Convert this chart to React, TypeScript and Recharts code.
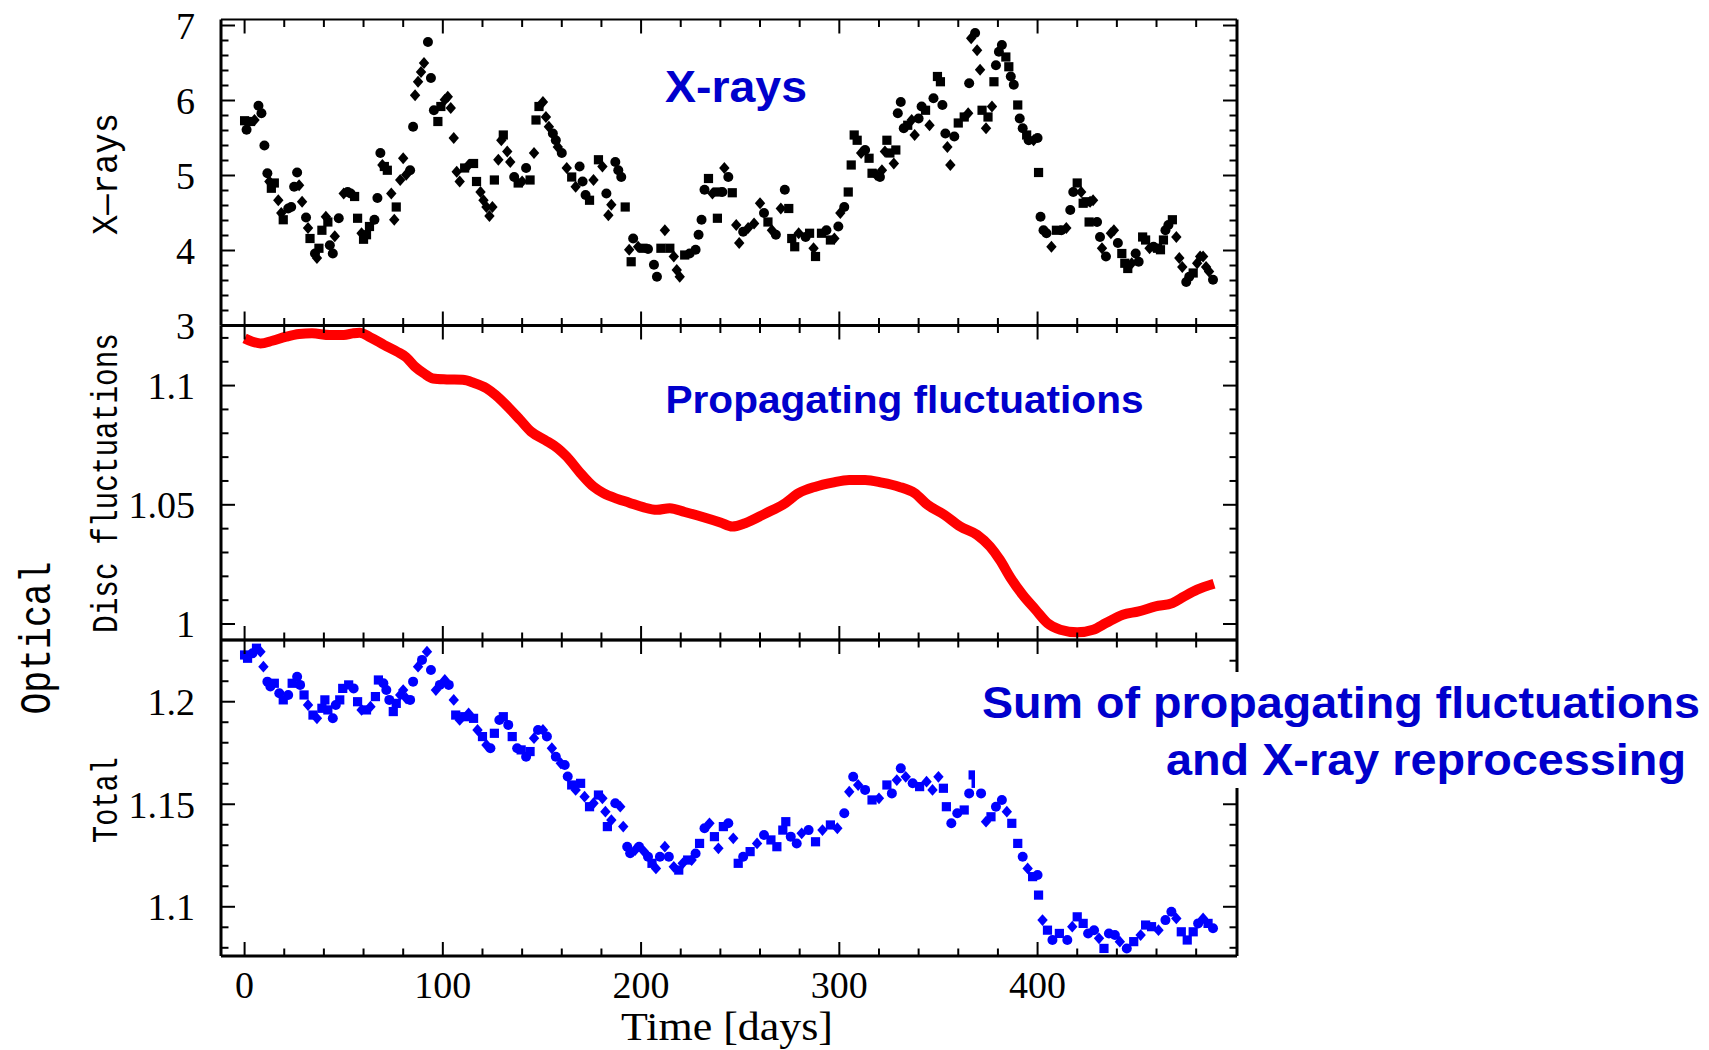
import React from 'react';
import { ComposedChart, Scatter, Line, XAxis, YAxis } from 'recharts';

// ---------- data ----------
const xrayDay = [0,1,3,5,7,8.5,10,11.5,12.5,13.5,15,17,18.5,19.5,22,23.5,25,26.5,27.5,29,31,32,33,35.5,36.5,37.5,39,41,42,43,44.5,45.5,47.5,50,52,53.5,55.5,57,59,60,61.5,63,65.5,67,68.5,69.5,70.5,72,74,75.5,76.5,78.5,80,81.5,83.5,85,86,87.5,89,90.5,92.5,94,95.5,97.5,99,101,102.5,104,105.5,107,108.5,111,113,115.5,117,119,120.5,122,123.5,125,126,128,129.5,130.5,132.5,134,136,138,140,142,144,146,147,148.5,150.5,152,153.5,155.5,157,158,160,162.5,165,167,169,170.5,172,174,176,178.5,180.5,182.5,183.5,185,187,188.5,190,192,194,195,196,198.5,201,203.5,206.5,208,210,212,214.5,216.5,218,219.5,222,224.5,227.5,229,230.5,232,234,236,238.5,238.5,241,242,244,246,248,249.5,251.5,254,257,260,262,264,266,268,270.5,272.5,274.5,276,277.5,279.5,283,285,287,288,291,293.5,295.5,297.5,299.5,300.5,302.5,304.5,306,307.5,309,311,313,315,316.5,318.5,320.5,321.5,323,324,325.5,327.5,328.5,329.5,331,332.5,334.5,336.5,338,340,341.5,343.5,345.5,347.5,349.5,351,352,353.5,354.5,356,358,360,363,365,365.5,366.5,368.5,369.5,371,372,374,375,377,378,379,380.5,382,384,385.5,386.5,388,390,391,392.5,394.5,395.5,398,400,400.5,401.5,403,404.5,407,409.5,412,414.5,416.5,418,420,422,423,424.5,426,426.5,428,430,431.5,432.5,434.5,437,438.5,440.5,442.5,444,445.5,447.5,449.5,451,453,454.5,456.5,458.5,460.5,462,463.5,464.5,466,468,470,471.5,473,475,476.5,478.5,480.5,482,483.5,485,486.5,488.5];
const xrayFlux = [5.73,5.61,5.72,5.74,5.93,5.83,5.40,5.03,4.92,4.83,4.90,4.67,4.50,4.41,4.56,4.58,4.85,5.04,4.87,4.65,4.44,4.30,4.16,3.96,3.90,4.03,4.27,4.45,4.38,4.07,3.96,4.19,4.43,4.76,4.78,4.76,4.72,4.43,4.23,4.15,4.21,4.32,4.41,4.70,5.30,5.14,5.12,5.07,4.76,4.41,4.58,4.94,5.23,5.01,5.07,5.65,6.07,6.25,6.38,6.50,6.78,6.30,5.87,5.72,5.92,6.01,6.05,5.90,5.50,5.05,4.92,5.10,5.14,5.16,4.92,4.78,4.67,4.58,4.46,4.58,4.94,5.21,5.47,5.54,5.32,5.18,4.98,4.90,4.92,5.10,4.94,5.30,5.74,5.92,5.98,5.78,5.65,5.56,5.47,5.38,5.30,5.10,4.98,4.85,5.12,4.92,4.74,4.67,4.94,5.21,5.12,4.76,4.47,4.61,5.18,5.07,4.98,4.58,4.01,3.85,4.16,4.05,4.03,4.02,3.81,3.65,4.03,4.27,4.03,3.92,3.74,3.65,3.94,3.96,4.01,4.21,4.41,4.81,4.96,4.76,4.43,4.78,4.78,5.10,4.98,4.77,4.34,4.10,4.25,4.30,4.36,4.63,4.50,4.38,4.27,4.21,4.56,4.81,4.56,4.16,4.05,4.23,4.18,4.23,4.03,3.92,4.23,4.27,4.14,4.16,4.32,4.50,4.58,4.78,5.14,5.54,5.47,5.30,5.34,5.23,5.03,5.01,4.98,5.07,5.32,5.47,5.30,5.16,5.34,5.83,5.98,5.63,5.67,5.74,5.54,5.76,5.92,5.87,5.67,6.03,6.32,6.25,5.94,5.56,5.38,5.14,5.52,5.70,5.78,5.83,6.23,6.83,6.90,6.67,6.41,5.87,5.63,5.78,5.92,6.25,6.47,6.65,6.74,6.58,6.45,6.32,6.21,5.94,5.76,5.63,5.54,5.47,5.47,5.50,5.04,4.45,4.27,4.23,4.05,4.27,4.27,4.30,4.54,4.78,4.90,4.78,4.63,4.65,4.38,4.65,4.67,4.38,4.18,4.03,3.92,4.23,4.27,4.10,3.96,3.83,3.76,3.83,3.96,3.85,4.18,4.14,4.03,4.05,4.03,4.01,4.14,4.27,4.34,4.41,4.18,3.90,3.78,3.58,3.65,3.70,3.83,3.92,3.92,3.78,3.72,3.61];

const discDay = [0,4,8,14,21,27.5,34,43,50,54.5,58,63.5,70.5,77,81.5,86,90.5,95,102,110,115.5,122,126.5,133.5,139,144.5,151.5,158,162.5,169.5,176,181,188,194,201,208,214.5,222,231.5,240,246,252.5,263,271.5,279.5,288,296.5,305,313,321.5,330,338,344.5,353,361,369.5,376,381,386.5,392.5,399,405,411.5,420,428,434.5,443,451,459.5,468,474,480.5,489];
const discFlux = [1.1198,1.1184,1.1177,1.1188,1.1205,1.1216,1.1219,1.1212,1.1212,1.1219,1.1222,1.1202,1.1170,1.1142,1.1119,1.1079,1.1051,1.1030,1.1026,1.1024,1.1012,1.0989,1.0961,1.0905,1.0856,1.0807,1.0772,1.0737,1.0702,1.0632,1.0576,1.0549,1.0525,1.0509,1.0490,1.0479,1.0486,1.0470,1.0448,1.0426,1.0409,1.0423,1.0465,1.0500,1.0549,1.0576,1.0593,1.0604,1.0604,1.0593,1.0576,1.0549,1.0500,1.0458,1.0409,1.0374,1.0325,1.0269,1.0192,1.0122,1.0060,1.0004,0.9976,0.9965,0.9976,1.0004,1.0039,1.0053,1.0074,1.0088,1.0116,1.0144,1.0169];

const totalDay = [0,1.5,4,6,8,9.5,11.5,13,15,17.5,19.5,22,24,26.5,28,30,32,34.5,36.5,39,40.5,42,44.5,46,48,49.5,52.5,55,57,59,61.5,63.5,66,67.5,70,71.5,73,75,76.5,78.5,80,81.5,83.5,85,87.5,89.5,92,94,96.5,98.5,101,103,105.5,106.5,108.5,111,113,115.5,117.5,120,122,124,126,128.5,130.5,133,135,137.5,139.5,142,144,146,148,150.5,152.5,155,157,159.5,161.5,163,165,167,169.5,171.5,174,176,178.5,180.5,182,183,185,187,189.5,191,193,194.5,197,199,201.5,203.5,205.5,207.5,209.5,212,214,216.5,219,221,223.5,225.5,227.5,229.5,232,234.5,237,239,241.5,244,246.5,249,251.5,255,258.5,262,265.5,268.5,271.5,273,275.5,278.5,281,284.5,288,291.5,295.5,299,302.5,305,307,309.5,313,316.5,320,324,326.5,329,331,333.5,337,340.5,344,347,350,352.5,354,356.5,359.5,363,365.5,367.5,369,371.5,374,376.5,379,382,384.5,387,390,392.5,395,397.5,400,400.5,402.5,405,407.5,411,415,417.5,420,423,425.5,428.5,431,433.5,436,439,441.5,445,448.5,452,454.5,457.5,461,464.5,467.5,470,472.5,475.5,478.5,481,483.5,486,488.5];
const totalFlux = [1.2228,1.2212,1.2236,1.2261,1.2244,1.2171,1.2098,1.2074,1.2090,1.2041,1.2009,1.2033,1.2090,1.2122,1.2082,1.2033,1.1984,1.1935,1.1919,1.1968,1.2009,1.1960,1.1919,1.1984,1.2009,1.2065,1.2082,1.2065,1.2000,1.1960,1.1960,1.1976,1.2025,1.2106,1.2090,1.2057,1.2009,1.1952,1.1992,1.2033,1.2057,1.2017,1.2009,1.2098,1.2171,1.2204,1.2244,1.2155,1.2057,1.2082,1.2106,1.2082,1.2009,1.1935,1.1911,1.1927,1.1943,1.1919,1.1862,1.1830,1.1789,1.1773,1.1846,1.1911,1.1927,1.1887,1.1830,1.1773,1.1765,1.1732,1.1757,1.1822,1.1862,1.1862,1.1830,1.1773,1.1732,1.1700,1.1691,1.1635,1.1594,1.1570,1.1602,1.1537,1.1488,1.1505,1.1545,1.1529,1.1464,1.1391,1.1423,1.1505,1.1488,1.1391,1.1293,1.1261,1.1277,1.1293,1.1269,1.1244,1.1212,1.1187,1.1244,1.1293,1.1244,1.1195,1.1179,1.1212,1.1228,1.1228,1.1260,1.1309,1.1383,1.1407,1.1342,1.1285,1.1391,1.1407,1.1334,1.1212,1.1244,1.1269,1.1309,1.1350,1.1326,1.1293,1.1374,1.1415,1.1342,1.1309,1.1358,1.1374,1.1317,1.1374,1.1399,1.1383,1.1456,1.1561,1.1634,1.1594,1.1570,1.1521,1.1529,1.1594,1.1553,1.1618,1.1675,1.1634,1.1602,1.1586,1.1610,1.1570,1.1634,1.1578,1.1488,1.1407,1.1456,1.1472,1.1553,1.1643,1.1602,1.1553,1.1415,1.1439,1.1488,1.1521,1.1464,1.1407,1.1309,1.1244,1.1187,1.1147,1.1155,1.1057,1.0935,1.0886,1.0838,1.0870,1.0838,1.0903,1.0951,1.0919,1.0870,1.0886,1.0846,1.0797,1.0870,1.0862,1.0830,1.0797,1.0830,1.0862,1.0911,1.0903,1.0886,1.0935,1.0976,1.0943,1.0878,1.0838,1.0878,1.0919,1.0943,1.0919,1.0895];

// ---------- ticks ----------
const dayTicks = [0,20,40,60,80,100,120,140,160,180,200,220,240,260,280,300,320,340,360,380,400,420,440,460,480];
const dayLabels = [0,100,200,300,400];
const xrayTicks = [3,3.2,3.4,3.6,3.8,4,4.2,4.4,4.6,4.8,5,5.2,5.4,5.6,5.8,6,6.2,6.4,6.6,6.8,7];
const xrayLabels = [3,4,5,6,7];
const discTicks = [1,1.01,1.02,1.03,1.04,1.05,1.06,1.07,1.08,1.09,1.1,1.11,1.12];
const discLabels = [1,1.05,1.1];
const totalTicks = [1.08,1.09,1.1,1.11,1.12,1.13,1.14,1.15,1.16,1.17,1.18,1.19,1.2,1.21,1.22];
const totalLabels = [1.1,1.15,1.2];

const xrayData = xrayDay.map((d, i) => ({ day: d, v: xrayFlux[i] }));
const discData = discDay.map((d, i) => ({ day: d, v: discFlux[i] }));
const totalData = totalDay.map((d, i) => ({ day: d, v: totalFlux[i] }));

// ---------- layout ----------
const W = 1709;
const H = 1050;
const PLOT_LEFT = 221;
const PLOT_RIGHT = 1237;
const YW = 80;
const AX = 1; // thickness reserved by the tick-only axes
const DAY_DOMAIN: [number, number] = [-11.9, 500.6];
const TICK_MAJOR = 14;
const TICK_MINOR = 7.5;
const X_MARGIN = 15;
const Y_MARGIN = 26;
const TICK_FONT = '"Liberation Serif", "Times New Roman", serif';

const has = (arr: number[], v: number) => arr.some((a) => Math.abs(a - v) < 1e-9);

const bottomTick = (showLabels: boolean) => (p: any) => {
  const { x, y, payload } = p;
  const v = payload.value;
  const major = has(dayLabels, v);
  const base = y - X_MARGIN;
  return (
    <g>
      <line x1={x} x2={x} y1={base} y2={base - (major ? TICK_MAJOR : TICK_MINOR)} stroke="#000" strokeWidth={2} />
      {showLabels && major ? (
        <text x={x} y={y} dy="0.71em" textAnchor="middle" fontFamily={TICK_FONT} fontSize={38} fill="#000">
          {v}
        </text>
      ) : null}
    </g>
  );
};

const topTick = (p: any) => {
  const { x, y, payload } = p;
  const major = has(dayLabels, payload.value);
  return <line x1={x} x2={x} y1={y} y2={y + (major ? TICK_MAJOR : TICK_MINOR)} stroke="#000" strokeWidth={2} />;
};

const leftTick = (labels: number[]) => (p: any) => {
  const { x, y, payload } = p;
  const v = payload.value;
  const major = has(labels, v);
  const base = x + Y_MARGIN;
  return (
    <g>
      <line x1={base} x2={base + (major ? TICK_MAJOR : TICK_MINOR)} y1={y} y2={y} stroke="#000" strokeWidth={2} />
      {major ? (
        <text x={x} y={y} dy="0.35em" textAnchor="end" fontFamily={TICK_FONT} fontSize={38} fill="#000">
          {String(v)}
        </text>
      ) : null}
    </g>
  );
};

const rightTick = (labels: number[]) => (p: any) => {
  const { x, y, payload } = p;
  const major = has(labels, payload.value);
  return <line x1={x} x2={x - (major ? TICK_MAJOR : TICK_MINOR)} y1={y} y2={y} stroke="#000" strokeWidth={2} />;
};

const marker = (color: string, s: number) => (p: any) => {
  const { cx, cy, payload } = p;
  if (cx == null || cy == null) return <g />;
  const k = Math.round((payload?.day ?? 0) * 2) % 3;
  if (k === 0) return <rect x={cx - s} y={cy - s} width={2 * s} height={2 * s} fill={color} />;
  if (k === 1)
    return <path d={`M${cx},${cy - s - 1.3}L${cx + s + 0.6},${cy}L${cx},${cy + s + 1.3}L${cx - s - 0.6},${cy}Z`} fill={color} />;
  return <circle cx={cx} cy={cy} r={s + 0.4} fill={color} />;
};

const frame = (w: number) => ({ stroke: '#000', strokeWidth: w });

type PanelProps = {
  data: { day: number; v: number }[];
  plotTop: number;
  plotBottom: number;
  yDomain: [number, number];
  yTicks: number[];
  yLabels: number[];
  xLabels: boolean;
  topWidth: number;
  kind: 'xray' | 'disc' | 'total';
};

function Panel({ data, plotTop, plotBottom, yDomain, yTicks, yLabels, xLabels, topWidth, kind }: PanelProps) {
  return (
    <div style={{ position: 'absolute', left: 0, top: 0, width: W, height: H }}>
      <ComposedChart
        width={W}
        height={H}
        data={data}
        margin={{ top: plotTop - AX, bottom: H - plotBottom - AX, left: PLOT_LEFT - YW, right: W - PLOT_RIGHT - AX }}
      >
        <XAxis
          xAxisId="b"
          dataKey="day"
          type="number"
          orientation="bottom"
          domain={DAY_DOMAIN}
          allowDataOverflow
          ticks={dayTicks}
          interval={0}
          height={AX}
          tickSize={0}
          tickMargin={X_MARGIN}
          tickLine={false}
          axisLine={frame(3)}
          tick={bottomTick(xLabels)}
        />
        <XAxis
          xAxisId="t"
          dataKey="day"
          type="number"
          orientation="top"
          domain={DAY_DOMAIN}
          allowDataOverflow
          ticks={dayTicks}
          interval={0}
          height={AX}
          tickSize={0}
          tickMargin={0}
          tickLine={false}
          axisLine={frame(topWidth)}
          tick={topTick}
        />
        <YAxis
          yAxisId="l"
          dataKey="v"
          type="number"
          orientation="left"
          domain={yDomain}
          allowDataOverflow
          ticks={yTicks}
          interval={0}
          width={YW}
          tickSize={0}
          tickMargin={Y_MARGIN}
          tickLine={false}
          axisLine={frame(3)}
          tick={leftTick(yLabels)}
        />
        <YAxis
          yAxisId="r"
          dataKey="v"
          type="number"
          orientation="right"
          domain={yDomain}
          allowDataOverflow
          ticks={yTicks}
          interval={0}
          width={AX}
          tickSize={0}
          tickMargin={0}
          tickLine={false}
          axisLine={frame(3)}
          tick={rightTick(yLabels)}
        />
        {kind === 'disc' ? (
          <Line
            xAxisId="b"
            yAxisId="l"
            dataKey="v"
            type="monotone"
            stroke="#ff0000"
            strokeWidth={10}
            dot={false}
            isAnimationActive={false}
          />
        ) : (
          <Scatter
            xAxisId="b"
            yAxisId="l"
            dataKey="v"
            shape={marker(kind === 'xray' ? '#000000' : '#0000ff', 4.6)}
            isAnimationActive={false}
          />
        )}
      </ComposedChart>
    </div>
  );
}

const BLUE = '#0000cc';
const SANS = '"Liberation Sans", Arial, sans-serif';
const MONO = '"Liberation Mono", "Courier New", monospace';

export default function App() {
  return (
    <div style={{ position: 'absolute', left: 0, top: 0, width: W, height: H, background: '#fff', overflow: 'hidden' }}>
      <Panel data={xrayData} plotTop={19.5} plotBottom={325.5} yDomain={[3, 7.08]} yTicks={xrayTicks} yLabels={xrayLabels} xLabels={false} topWidth={2} kind="xray" />
      <Panel data={discData} plotTop={325.5} plotBottom={640} yDomain={[0.9933, 1.1252]} yTicks={discTicks} yLabels={discLabels} xLabels={false} topWidth={2.5} kind="disc" />
      <Panel data={totalData} plotTop={640} plotBottom={956} yDomain={[1.076, 1.2301]} yTicks={totalTicks} yLabels={totalLabels} xLabels={true} topWidth={2.5} kind="total" />
      <svg width={W} height={H} style={{ position: 'absolute', left: 0, top: 0 }}>
        <text x={665} y={102} fontFamily={SANS} fontWeight="bold" fontSize={45} fill={BLUE} textLength={142} lengthAdjust="spacingAndGlyphs">X-rays</text>
        <text x={665.5} y={413} fontFamily={SANS} fontWeight="bold" fontSize={39} fill={BLUE} textLength={478} lengthAdjust="spacingAndGlyphs">Propagating fluctuations</text>
        <rect x={975} y={672} width={734} height={116} fill="#fff" />
        <text x={982} y={718} fontFamily={SANS} fontWeight="bold" fontSize={45} fill={BLUE} textLength={718} lengthAdjust="spacingAndGlyphs">Sum of propagating fluctuations</text>
        <text x={1166} y={775} fontFamily={SANS} fontWeight="bold" fontSize={45} fill={BLUE} textLength={520} lengthAdjust="spacingAndGlyphs">and X-ray reprocessing</text>

        <text transform="rotate(-90 117 174)" x={117} y={174} textAnchor="middle" fontFamily={MONO} fontSize={36} fill="#000" textLength={122} lengthAdjust="spacingAndGlyphs">X—rays</text>
        <text transform="rotate(-90 117 483)" x={117} y={483} textAnchor="middle" fontFamily={MONO} fontSize={36} fill="#000" textLength={300} lengthAdjust="spacingAndGlyphs">Disc fluctuations</text>
        <text transform="rotate(-90 117 800)" x={117} y={800} textAnchor="middle" fontFamily={MONO} fontSize={36} fill="#000" textLength={86} lengthAdjust="spacingAndGlyphs">Total</text>
        <text transform="rotate(-90 50 638)" x={50} y={638} textAnchor="middle" fontFamily={MONO} fontSize={44} fill="#000" textLength={153} lengthAdjust="spacingAndGlyphs">Optical</text>
        <text x={727} y={1040} textAnchor="middle" fontFamily={TICK_FONT} fontSize={40} fill="#000" textLength={212} lengthAdjust="spacingAndGlyphs">Time [days]</text>
      </svg>
    </div>
  );
}
